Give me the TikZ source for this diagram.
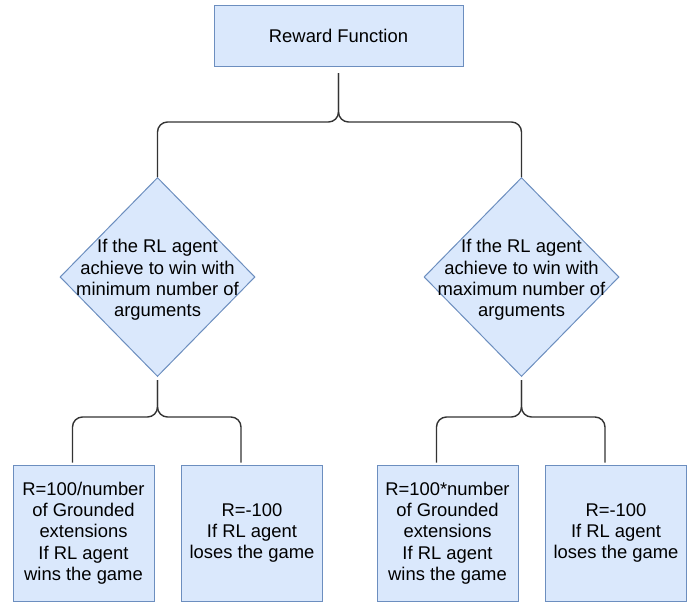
\documentclass[tikz,border=0pt]{standalone}
\usepackage{fontspec}
\setmainfont{Liberation Sans}
\usetikzlibrary{shapes.geometric}
\definecolor{RFfill}{HTML}{DAE8FC}
\definecolor{RFline}{HTML}{6C8EBF}
\definecolor{RFlink}{HTML}{333333}

\begin{document}
\begin{tikzpicture}[x=1pt, y=-1pt, every node/.style={font=\fontsize{18.4}{21.3}\selectfont}, box/.style={draw=RFline,fill=RFfill,line width=1pt,minimum width=141pt,minimum height=136pt,align=center,inner sep=0pt}, res/.style={box,execute at begin node={\rule{0pt}{19pt}}}, dec/.style={diamond,draw=RFline,fill=RFfill,line width=1pt,minimum width=195pt,minimum height=199pt,inner sep=0pt}, link/.style={draw=RFlink,line width=1.4pt,rounded corners=10pt}]
\useasboundingbox (0,0) rectangle (693,602);
\node[box,minimum width=249pt,minimum height=61pt] (rf) at (338.5,36) {Reward Function};
\node[dec] (dmin) at (157.5,277) {};
\node[align=center] (dmintxt) at ([yshift=-3pt]dmin) {If the RL agent\\achieve to win with\\minimum number of\\arguments};
\node[dec] (dmax) at (521.5,277) {};
\node[align=center] (dmaxtxt) at ([yshift=-3pt]dmax) {If the RL agent\\achieve to win with\\maximum number of\\arguments};
\node[res] (win1) at (83.5,533) {R=100/number\\of Grounded\\extensions\\If RL agent\\wins the game};
\node[res] (lose1) at (252,533) {R=-100\\If RL agent\\loses the game};
\node[res] (win2) at (447.5,533) {R=100*number\\of Grounded\\extensions\\If RL agent\\wins the game};
\node[res] (lose2) at (616,533) {R=-100\\If RL agent\\loses the game};
\foreach \d in {dmin,dmax}
  \draw[link,shorten <=6pt] (rf.south) -- ++(0,55) -| (\d.north);
\foreach \d/\b in {dmin/win1,dmin/lose1,dmax/win2,dmax/lose2}
  \draw[link,shorten <=3pt,shorten >=2pt] (\d.south) -- ++(0,40) -| ([xshift=-11pt]\b.north);
\end{tikzpicture}
\end{document}
